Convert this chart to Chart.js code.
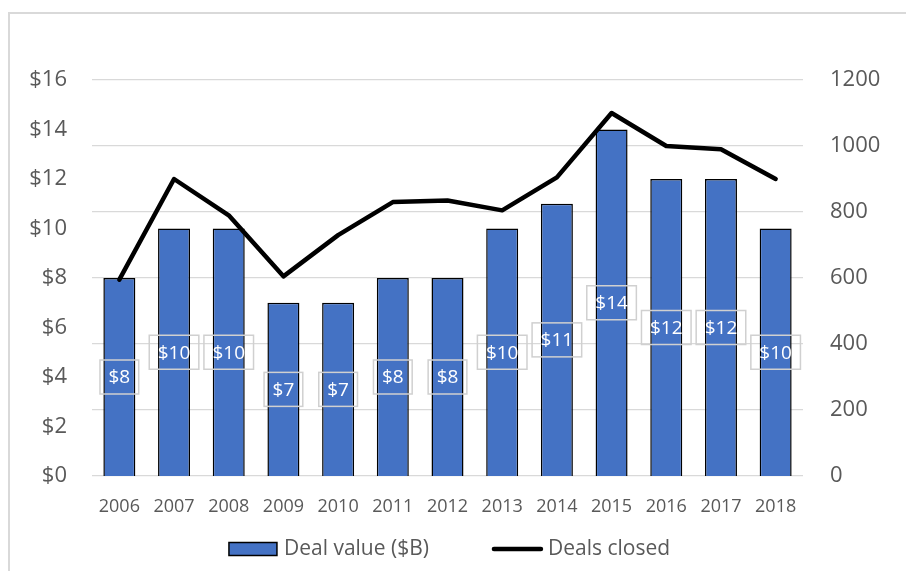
<!DOCTYPE html>
<html><head><meta charset="utf-8">
<script src="https://cdn.jsdelivr.net/npm/chart.js@4"></script>
<style>
html,body{margin:0;padding:0;background:#fff;}
#wrap{position:relative;width:906px;height:571px;overflow:hidden;background:#fff;}
#frame{position:absolute;left:8px;top:12px;width:960px;height:640px;border:2px solid #d9d9d9;box-sizing:border-box;}
canvas{position:absolute;left:0;top:0;}
</style></head>
<body><div id="wrap"><div id="frame"></div><canvas id="c" width="906" height="571"></canvas></div>
<script>
const years = ['2006','2007','2008','2009','2010','2011','2012','2013','2014','2015','2016','2017','2018'];
const dealValue = [8,10,10,7,7,8,8,10,11,14,12,12,10];
const dealsClosed = [595,900,790,605,730,830,835,805,905,1100,1000,990,900];
const seriesNames = ['Deal value ($B)','Deals closed'];
const valueAxis = {min:0,max:16,step:2};
const countAxis = {min:0,max:1200,step:200};

const FONT = '"Open Sans", "Noto Sans", sans-serif';
const TXT = '#595959';
const BAR = '#4472C4';

const barLabels = {
  id:'barLabels',
  afterDatasetsDraw(chart){
    const ctx = chart.ctx;
    const meta = chart.getDatasetMeta(1);
    ctx.save();
    ctx.font = '19px ' + FONT;
    ctx.textAlign = 'center';
    ctx.textBaseline = 'middle';
    meta.data.forEach((bar,i)=>{
      const txt = '$' + dealValue[i];
      const cx = bar.x, cy = (bar.y + bar.base)/2;
      const w = ctx.measureText(txt).width + 17, h = 34;
      ctx.strokeStyle = '#d0d0d0';
      ctx.lineWidth = 1.5;
      ctx.strokeRect(cx - w/2, cy - h/2, w, h);
      ctx.fillStyle = '#ffffff';
      ctx.fillText(txt, cx, cy + 1);
    });
    ctx.restore();
  }
};

const customLegend = {
  id:'customLegend',
  afterDraw(chart){
    const ctx = chart.ctx;
    const area = chart.chartArea;
    ctx.save();
    ctx.font = '21px ' + FONT;
    ctx.textBaseline = 'middle';
    const w1 = ctx.measureText(seriesNames[0]).width;
    const w2 = ctx.measureText(seriesNames[1]).width;
    const boxW = 48, lineW = 51, gapA = 7, gapB = 5, gapItems = 63;
    const total = boxW + gapA + w1 + gapItems + lineW + gapB + w2;
    let x = (area.left + area.right)/2 - total/2 + 2;
    const y = 549;
    ctx.fillStyle = BAR;
    ctx.fillRect(x, y - 6.5, boxW, 13);
    ctx.strokeStyle = '#000';
    ctx.lineWidth = 1.5;
    ctx.strokeRect(x, y - 6.5, boxW, 13);
    x += boxW + gapA;
    ctx.fillStyle = TXT;
    ctx.fillText(seriesNames[0], x, y);
    x += w1 + gapItems;
    ctx.beginPath();
    ctx.lineCap = 'round';
    ctx.lineWidth = 4.5;
    ctx.moveTo(x + 2, y); ctx.lineTo(x + lineW - 2, y);
    ctx.stroke();
    x += lineW + gapB;
    ctx.fillText(seriesNames[1], x, y);
    ctx.restore();
  }
};

new Chart(document.getElementById('c'), {
  data:{
    labels: years,
    datasets:[
      {type:'line', label:seriesNames[1], data:dealsClosed, yAxisID:'y1', borderColor:'#000', borderWidth:4.5,
       pointRadius:0, tension:0, borderJoinStyle:'round', borderCapStyle:'round', order:0},
      {type:'bar', label:seriesNames[0], data:dealValue, yAxisID:'y', backgroundColor:BAR, borderColor:'#000',
       borderWidth:1.5, barPercentage:0.585, categoryPercentage:1, order:1}
    ]
  },
  options:{
    responsive:false, animation:false, devicePixelRatio:1,
    layout:{padding:{top:80,left:0,right:0,bottom:0}},
    plugins:{legend:{display:false}, tooltip:{enabled:false}},
    scales:{
      x:{grid:{display:false}, border:{display:false},
         ticks:{color:TXT, font:{family:FONT,size:18}, padding:12, maxRotation:0},
         afterFit(s){ s.height = 95; }},
      y:{position:'left', min:valueAxis.min, max:valueAxis.max,
         grid:{display:false, drawTicks:false}, border:{display:false},
         ticks:{stepSize:valueAxis.step, color:TXT, font:{family:FONT,size:22}, padding:25, callback:v=>'$'+v},
         afterFit(s){ s.width = 92; }},
      y1:{position:'right', min:countAxis.min, max:countAxis.max,
         grid:{color:'#d9d9d9', lineWidth:1.3, drawTicks:false}, border:{display:false},
         ticks:{stepSize:countAxis.step, color:TXT, font:{family:FONT,size:22}, padding:27, callback:v=>String(v)},
         afterFit(s){ s.width = 103; }}
    }
  },
  plugins:[barLabels, customLegend]
});
</script>
</body></html>
